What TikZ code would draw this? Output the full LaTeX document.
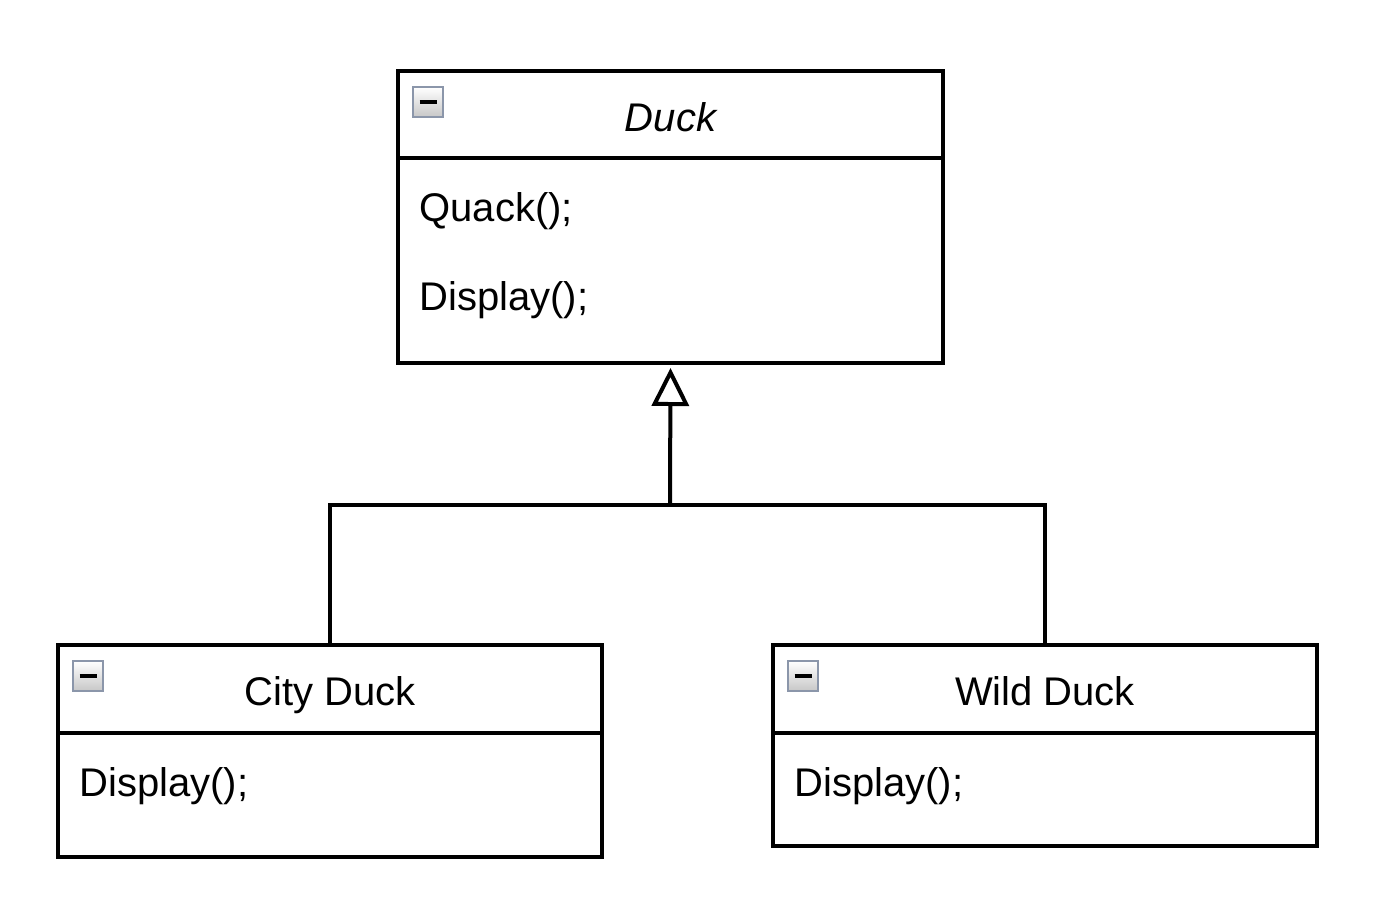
\documentclass[tikz,border=0pt]{standalone}
\usepackage{fontspec}
\setmainfont{Liberation Sans}
\usetikzlibrary{arrows.meta}
\definecolor{iconframe}{RGB}{139,150,170}
\begin{document}
\begin{tikzpicture}[x=0.5pt,y=0.5pt,yscale=-1,
    classbox/.style={draw, line width=2pt, rectangle, inner sep=0pt, align=center},
    headbox/.style={classbox, text height=20.5pt, text depth=4pt},
    icon/.style={draw=iconframe, line width=1pt, rectangle, minimum size=15pt, inner sep=0pt, top color=white, bottom color=black!22},
    minusbar/.style={line width=2pt},
    method/.style={anchor=base west, inner sep=0pt},
    edge/.style={line width=2pt}]

    \useasboundingbox (0,0) rectangle (1386,906);
    \fontsize{20}{24}\selectfont

    % classes
    \draw (670.5,114.5) node [headbox, minimum width=272.5pt, minimum height=43.5pt] (duckhead) {\itshape Duck};
    \draw (670.5,260.5) node [classbox, minimum width=272.5pt, minimum height=102.5pt] (duckbody) {};
    \draw (330,689)     node [headbox, minimum width=272pt, minimum height=44pt] (cityhead) {City Duck};
    \draw (330,795)     node [classbox, minimum width=272pt, minimum height=62pt] (citybody) {};
    \draw (1045,689)    node [headbox, minimum width=272pt, minimum height=44pt] (wildhead) {Wild Duck};
    \draw (1045,789.5)  node [classbox, minimum width=272pt, minimum height=56.5pt] (wildbody) {};

    % methods
    \draw (419,221) node [method] (quack) {Quack();};
    \draw (419,310) node [method] (display) {Display();};
    \draw (79,796)  node [method] (citydisplay) {Display();};
    \draw (794,796) node [method] (wilddisplay) {Display();};

    % collapse icons
    \draw (428,102) node [icon] (duckicon) {};
    \draw (88,676)  node [icon] (cityicon) {};
    \draw (803,676) node [icon] (wildicon) {};
    \draw [minusbar] ([xshift=-4.25pt]duckicon.center) -- ([xshift=4.25pt]duckicon.center);
    \draw [minusbar] ([xshift=-4.25pt]cityicon.center) -- ([xshift=4.25pt]cityicon.center);
    \draw [minusbar] ([xshift=-4.25pt]wildicon.center) -- ([xshift=4.25pt]wildicon.center);

    % inheritance
    \coordinate (joint) at (670,505);
    \draw [edge] (cityhead.north) |- (joint) -| (wildhead.north);
    \draw [edge, -{Triangle[open, length=19pt, width=18.5pt, line width=2pt]}, shorten >=1.5pt] (joint) -- (duckbody.south);

\end{tikzpicture}
\end{document}
